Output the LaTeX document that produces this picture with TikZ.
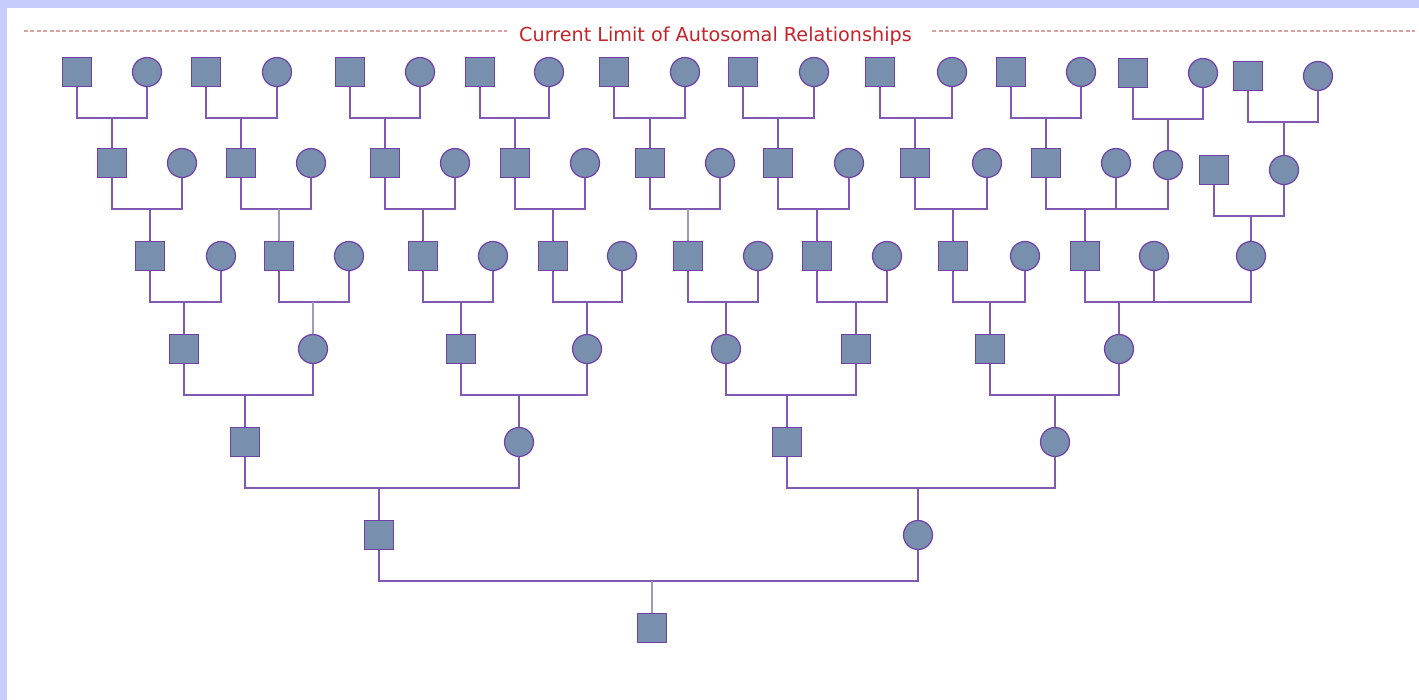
\documentclass[tikz,border=0pt]{standalone}
\usepackage{fontspec}
\newfontfamily\titlefont{DejaVu Sans}
\usetikzlibrary{calc}

\definecolor{lav}{RGB}{198,205,253}
\definecolor{body}{RGB}{120,143,174}
\definecolor{rim}{RGB}{112,64,168}
\definecolor{bar}{RGB}{128,90,178}
\definecolor{pale}{RGB}{165,150,192}
\definecolor{limit}{RGB}{196,36,42}
\definecolor{dashline}{RGB}{220,160,160}

\tikzset{
  male/.style={draw=rim, fill=body, line width=0.6pt, rectangle, minimum size=14.5pt, inner sep=0pt},
  female/.style={draw=rim, fill=body, line width=0.6pt, circle, minimum size=14.5pt, inner sep=0pt},
  link/.style={draw=bar, line width=1pt},
  dim/.style={draw=pale, line width=1.4pt},
  rule/.style={draw=dashline, line width=0.8pt, dash pattern=on 2pt off 1.2pt},
}

\begin{document}
\begin{tikzpicture}[x=0.5pt, y=-0.5pt]
  \fill[lav] (0,0) rectangle (1419,700);
  \fill[white] (7,8) rectangle (1419,700);
  \useasboundingbox (0,0) rectangle (1419,700);

  % title with the dashed limit line
  \node[anchor=base, text=limit, inner xsep=6pt, font=\titlefont\fontsize{9.6}{11}\selectfont] (t) at (715.5,42)
    {Current Limit of Autosomal Relationships};
  \coordinate (ruleL) at (24,31);
  \coordinate (ruleR) at (1415,31);
  \draw[rule] (ruleL) -- (ruleL -| t.west);
  \draw[rule] ([xshift=4pt]t.east |- ruleR) -- (ruleR);

  % generation 1
  \node[male] (a1) at (77,72) {};
  \node[female] (a2) at (147,72) {};
  \node[male] (a3) at (206,72) {};
  \node[female] (a4) at (277,72) {};
  \node[male] (a5) at (350,72) {};
  \node[female] (a6) at (420,72) {};
  \node[male] (a7) at (480,72) {};
  \node[female] (a8) at (549,72) {};
  \node[male] (a9) at (614,72) {};
  \node[female] (a10) at (685,72) {};
  \node[male] (a11) at (743,72) {};
  \node[female] (a12) at (814,72) {};
  \node[male] (a13) at (880,72) {};
  \node[female] (a14) at (952,72) {};
  \node[male] (a15) at (1011,72) {};
  \node[female] (a16) at (1081,72) {};
  \node[male] (a17) at (1133,73) {};
  \node[female] (a18) at (1203,73) {};
  \node[male] (a19) at (1248,76) {};
  \node[female] (a20) at (1318,76) {};

  % generation 2
  \node[male] (b1) at (112,163) {};
  \node[female] (b2) at (182,163) {};
  \node[male] (b3) at (241,163) {};
  \node[female] (b4) at (311,163) {};
  \node[male] (b5) at (385,163) {};
  \node[female] (b6) at (455,163) {};
  \node[male] (b7) at (515,163) {};
  \node[female] (b8) at (585,163) {};
  \node[male] (b9) at (650,163) {};
  \node[female] (b10) at (720,163) {};
  \node[male] (b11) at (778,163) {};
  \node[female] (b12) at (849,163) {};
  \node[male] (b13) at (915,163) {};
  \node[female] (b14) at (987,163) {};
  \node[male] (b15) at (1046,163) {};
  \node[female] (b16) at (1116,163) {};
  \node[female] (b17) at (1168,165) {};
  \node[male] (b18) at (1214,170) {};
  \node[female] (b19) at (1284,170) {};

  % generation 3
  \node[male] (c1) at (150,256) {};
  \node[female] (c2) at (221,256) {};
  \node[male] (c3) at (279,256) {};
  \node[female] (c4) at (349,256) {};
  \node[male] (c5) at (423,256) {};
  \node[female] (c6) at (493,256) {};
  \node[male] (c7) at (553,256) {};
  \node[female] (c8) at (622,256) {};
  \node[male] (c9) at (688,256) {};
  \node[female] (c10) at (758,256) {};
  \node[male] (c11) at (817,256) {};
  \node[female] (c12) at (887,256) {};
  \node[male] (c13) at (953,256) {};
  \node[female] (c14) at (1025,256) {};
  \node[male] (c15) at (1085,256) {};
  \node[female] (c16) at (1154,256) {};
  \node[female] (c17) at (1251,256) {};

  % generation 4
  \node[male] (d1) at (184,349) {};
  \node[female] (d2) at (313,349) {};
  \node[male] (d3) at (461,349) {};
  \node[female] (d4) at (587,349) {};
  \node[female] (d5) at (726,349) {};
  \node[male] (d6) at (856,349) {};
  \node[male] (d7) at (990,349) {};
  \node[female] (d8) at (1119,349) {};

  % generations 5 to 7
  \node[male] (e1) at (245,442) {};
  \node[female] (e2) at (519,442) {};
  \node[male] (e3) at (787,442) {};
  \node[female] (e4) at (1055,442) {};
  \node[male] (f1) at (379,535) {};
  \node[female] (f2) at (918,535) {};
  \node[male] (g1) at (652,628) {};

  % couples of generation 1 and their children
  \draw[link] (a1) -- ++(0,46) coordinate (ja1) -| (a2);
  \draw[link] (a3) -- ++(0,46) coordinate (ja2) -| (a4);
  \draw[link] (a5) -- ++(0,46) coordinate (ja3) -| (a6);
  \draw[link] (a7) -- ++(0,46) coordinate (ja4) -| (a8);
  \draw[link] (a9) -- ++(0,46) coordinate (ja5) -| (a10);
  \draw[link] (a11) -- ++(0,46) coordinate (ja6) -| (a12);
  \draw[link] (a13) -- ++(0,46) coordinate (ja7) -| (a14);
  \draw[link] (a15) -- ++(0,46) coordinate (ja8) -| (a16);
  \draw[link] (a17) -- ++(0,46) coordinate (ja9) -| (a18);
  \draw[link] (a19) -- ++(0,46) coordinate (ja10) -| (a20);
  \draw[link] (b1) -- (b1 |- ja1);
  \draw[link] (b3) -- (b3 |- ja2);
  \draw[link] (b5) -- (b5 |- ja3);
  \draw[link] (b7) -- (b7 |- ja4);
  \draw[link] (b9) -- (b9 |- ja5);
  \draw[link] (b11) -- (b11 |- ja6);
  \draw[link] (b13) -- (b13 |- ja7);
  \draw[link] (b15) -- (b15 |- ja8);
  \draw[link] (b17) -- (b17 |- ja9);
  \draw[link] (b19) -- (b19 |- ja10);

  % generation 2
  \draw[link] (b1) -- ++(0,46) coordinate (jb1) -| (b2);
  \draw[link] (b3) -- ++(0,46) coordinate (jb2) -| (b4);
  \draw[link] (b5) -- ++(0,46) coordinate (jb3) -| (b6);
  \draw[link] (b7) -- ++(0,46) coordinate (jb4) -| (b8);
  \draw[link] (b9) -- ++(0,46) coordinate (jb5) -| (b10);
  \draw[link] (b11) -- ++(0,46) coordinate (jb6) -| (b12);
  \draw[link] (b13) -- ++(0,46) coordinate (jb7) -| (b14);
  \draw[link] (b15) -- ++(0,46) coordinate (jb8) -| (b16);
  \draw[link] (b16 |- jb8) -| (b17);
  \draw[link] (b18) -- ++(0,46) coordinate (jb9) -| (b19);
  \draw[link] (c1) -- (c1 |- jb1);
  \draw[dim] (c3) -- (c3 |- jb2);
  \draw[link] (c5) -- (c5 |- jb3);
  \draw[link] (c7) -- (c7 |- jb4);
  \draw[dim] (c9) -- (c9 |- jb5);
  \draw[link] (c11) -- (c11 |- jb6);
  \draw[link] (c13) -- (c13 |- jb7);
  \draw[link] (c15) -- (c15 |- jb8);
  \draw[link] (c17) -- (c17 |- jb9);

  % generation 3
  \draw[link] (c1) -- ++(0,46) coordinate (jc1) -| (c2);
  \draw[link] (c3) -- ++(0,46) coordinate (jc2) -| (c4);
  \draw[link] (c5) -- ++(0,46) coordinate (jc3) -| (c6);
  \draw[link] (c7) -- ++(0,46) coordinate (jc4) -| (c8);
  \draw[link] (c9) -- ++(0,46) coordinate (jc5) -| (c10);
  \draw[link] (c11) -- ++(0,46) coordinate (jc6) -| (c12);
  \draw[link] (c13) -- ++(0,46) coordinate (jc7) -| (c14);
  \draw[link] (c15) -- ++(0,46) coordinate (jc8) -| (c16);
  \draw[link] (c16 |- jc8) -| (c17);
  \draw[link] (d1) -- (d1 |- jc1);
  \draw[dim] (d2) -- (d2 |- jc2);
  \draw[link] (d3) -- (d3 |- jc3);
  \draw[link] (d4) -- (d4 |- jc4);
  \draw[link] (d5) -- (d5 |- jc5);
  \draw[link] (d6) -- (d6 |- jc6);
  \draw[link] (d7) -- (d7 |- jc7);
  \draw[link] (d8) -- (d8 |- jc8);

  % generations 4 to 6
  \draw[link] (d1) -- ++(0,46) coordinate (jd1) -| (d2);
  \draw[link] (d3) -- ++(0,46) coordinate (jd2) -| (d4);
  \draw[link] (d5) -- ++(0,46) coordinate (jd3) -| (d6);
  \draw[link] (d7) -- ++(0,46) coordinate (jd4) -| (d8);
  \draw[link] (e1) -- (e1 |- jd1);
  \draw[link] (e2) -- (e2 |- jd2);
  \draw[link] (e3) -- (e3 |- jd3);
  \draw[link] (e4) -- (e4 |- jd4);
  \draw[link] (e1) -- ++(0,46) coordinate (je1) -| (e2);
  \draw[link] (e3) -- ++(0,46) coordinate (je2) -| (e4);
  \draw[link] (f1) -- (f1 |- je1);
  \draw[link] (f2) -- (f2 |- je2);
  \draw[link] (f1) -- ++(0,46) coordinate (jf1) -| (f2);
  \draw[dim] (g1) -- (g1 |- jf1);
\end{tikzpicture}
\end{document}
